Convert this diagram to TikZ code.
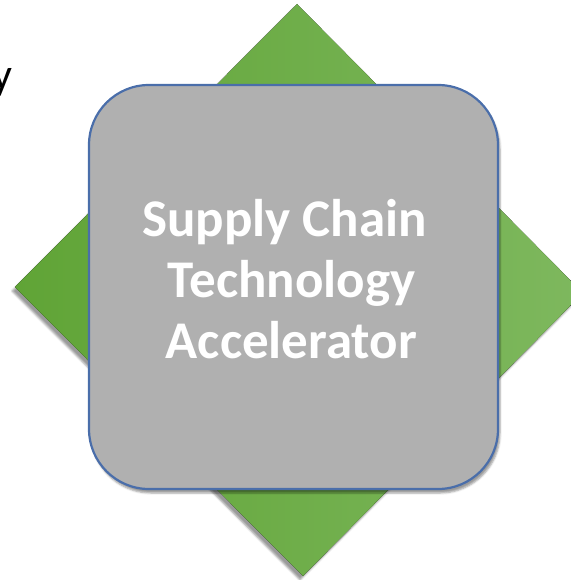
\documentclass[tikz,border=0pt]{standalone}
\usepackage{fontspec}
\setmainfont{Carlito}
\usetikzlibrary{shadows.blur}
\definecolor{diamondlight}{RGB}{126,184,94}
\definecolor{diamonddark}{RGB}{96,164,54}
\definecolor{boxgray}{RGB}{176,176,176}
\definecolor{boxblue}{RGB}{74,110,170}

\begin{document}
\begin{tikzpicture}[x=1pt,y=-1pt]
\useasboundingbox (0,0) rectangle (570,580);
\node [anchor=base east,inner sep=0pt,font=\fontsize{44}{52}\selectfont] (cut) at (13,90) {y};
\fill [left color=diamonddark,right color=diamondlight,blur shadow={shadow xshift=-3pt,shadow yshift=-4pt}]
  (297,4) -- (583,293) -- (303,576) -- (15,287) -- cycle;
\node [fill=boxgray,draw=boxblue,line width=2.2pt,rounded corners=60pt,minimum width=409pt,minimum height=404pt,
  blur shadow={shadow xshift=2pt,shadow yshift=-4pt}] (accel) at (293.5,287) {};
\node [text=white,align=center,font=\fontsize{53}{61}\selectfont\bfseries] (accel text) at ([xshift=-2pt,yshift=8pt]accel.center)
{
Supply Chain\hspace*{14pt}\\ Technology\\ Accelerator
};
\end{tikzpicture}
\end{document}
